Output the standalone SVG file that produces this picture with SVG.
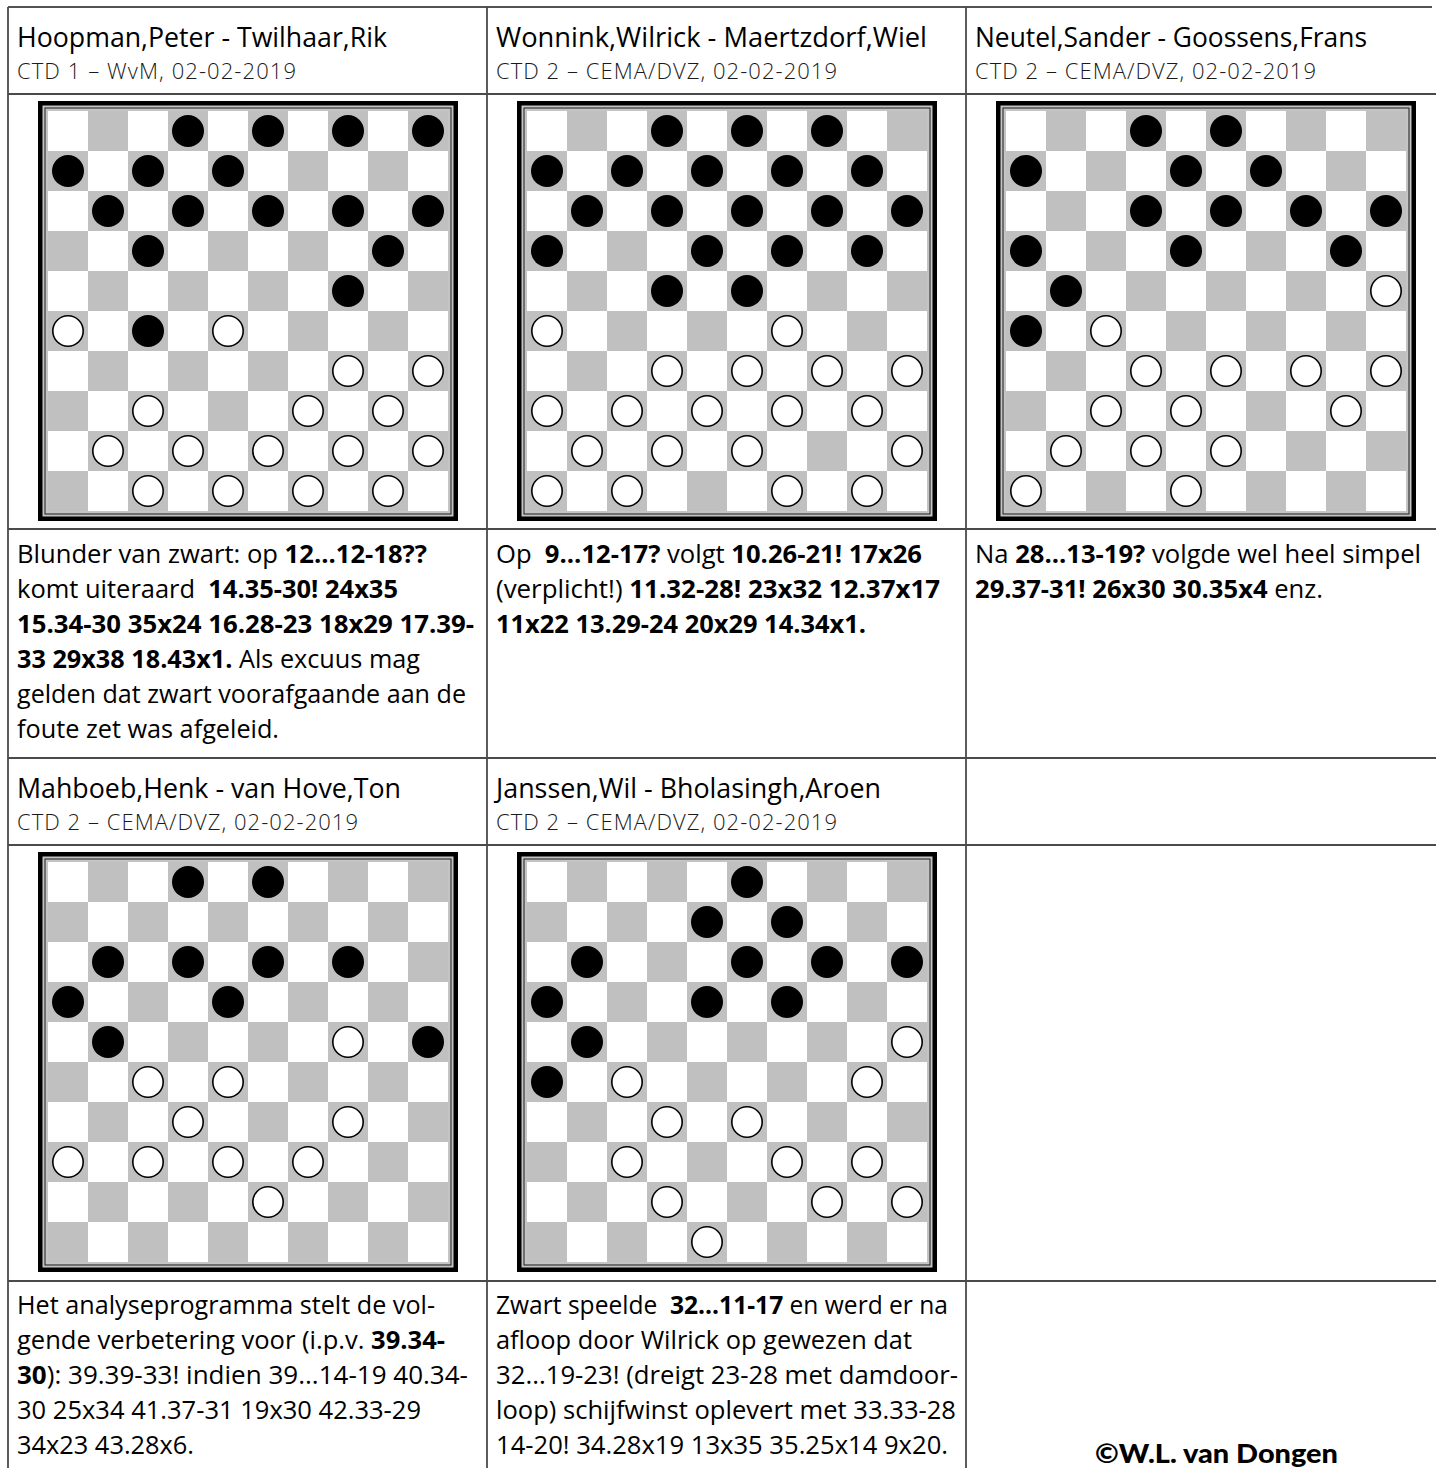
<svg xmlns="http://www.w3.org/2000/svg" xmlns:xlink="http://www.w3.org/1999/xlink" width="1436" height="1468" viewBox="0 0 1436 1468">
<style>
.grid line{stroke:#4a4a4a;stroke-width:1.8}
.grid .top{stroke:#1a1a1a;stroke-width:1.5}
.t{font-family:"Open Sans","Liberation Sans",sans-serif;font-weight:400;font-size:27px;fill:#000}
.s{font-family:"Open Sans","Liberation Sans",sans-serif;font-weight:300;font-size:22px;fill:#1a1a1a}
.b{font-family:"Open Sans","Liberation Sans",sans-serif;font-size:25.5px;fill:#000;white-space:pre}
.bo{font-weight:bold}
.k{fill:#000}
.w{fill:#fff;stroke:#000;stroke-width:1.6}
.copy{font-family:Lato,"DejaVu Sans",sans-serif;font-weight:900;font-size:27px;fill:#000}
</style>
<defs>
<pattern id="checker" patternUnits="userSpaceOnUse" x="0" y="0" width="80" height="80">
<rect width="80" height="80" fill="#fff"/>
<rect x="40" y="0" width="40" height="40" fill="#c0c0c0"/>
<rect x="0" y="40" width="40" height="40" fill="#c0c0c0"/>
</pattern>
<g id="board">
<rect x="-10" y="-10" width="420" height="420" fill="#000"/>
<rect x="-5.5" y="-5.5" width="411" height="411" fill="#c4c4c4"/>
<rect x="-3" y="-3" width="406" height="406" fill="none" stroke="#1a1a1a" stroke-width="1"/>
<rect x="0" y="0" width="400" height="400" fill="url(#checker)"/>
</g>
</defs>
<rect width="1436" height="1468" fill="#fff"/>

<g id="grid" class="grid">
<line class="top" x1="8" y1="7" x2="1432" y2="7"/>
<line x1="8" y1="7" x2="8" y2="1468"/>
<line x1="487" y1="7" x2="487" y2="1468"/>
<line x1="966" y1="7" x2="966" y2="1468"/>
<line x1="8" y1="94" x2="1436" y2="94"/>
<line x1="8" y1="529" x2="1436" y2="529"/>
<line x1="8" y1="758" x2="1436" y2="758"/>
<line x1="8" y1="845" x2="1436" y2="845"/>
<line x1="8" y1="1281" x2="1436" y2="1281"/>
</g>

<g id="game1">
<text class="t" x="17" y="47" textLength="370" lengthAdjust="spacingAndGlyphs">Hoopman,Peter - Twilhaar,Rik</text>
<text class="s" x="17" y="79" textLength="279" lengthAdjust="spacing">CTD 1 – WvM, 02-02-2019</text>
<g transform="translate(48,111)">
<use xlink:href="#board"/>
<g class="k">
<circle cx="140" cy="20" r="16"/><circle cx="220" cy="20" r="16"/><circle cx="300" cy="20" r="16"/><circle cx="380" cy="20" r="16"/>
<circle cx="20" cy="60" r="16"/><circle cx="100" cy="60" r="16"/><circle cx="180" cy="60" r="16"/>
<circle cx="60" cy="100" r="16"/><circle cx="140" cy="100" r="16"/><circle cx="220" cy="100" r="16"/><circle cx="300" cy="100" r="16"/><circle cx="380" cy="100" r="16"/>
<circle cx="100" cy="140" r="16"/><circle cx="340" cy="140" r="16"/>
<circle cx="300" cy="180" r="16"/>
<circle cx="100" cy="220" r="16"/>
</g>
<g class="w">
<circle cx="20" cy="220" r="15.2"/><circle cx="180" cy="220" r="15.2"/>
<circle cx="300" cy="260" r="15.2"/><circle cx="380" cy="260" r="15.2"/>
<circle cx="100" cy="300" r="15.2"/><circle cx="260" cy="300" r="15.2"/><circle cx="340" cy="300" r="15.2"/>
<circle cx="60" cy="340" r="15.2"/><circle cx="140" cy="340" r="15.2"/><circle cx="220" cy="340" r="15.2"/><circle cx="300" cy="340" r="15.2"/><circle cx="380" cy="340" r="15.2"/>
<circle cx="100" cy="380" r="15.2"/><circle cx="180" cy="380" r="15.2"/><circle cx="260" cy="380" r="15.2"/><circle cx="340" cy="380" r="15.2"/>
</g>
</g>
<text class="b" x="17" y="563" textLength="410" lengthAdjust="spacingAndGlyphs">Blunder van zwart: op <tspan class="bo">12...12-18??</tspan></text>
<text class="b" x="17" y="598" textLength="381" lengthAdjust="spacingAndGlyphs">komt uiteraard  <tspan class="bo">14.35-30! 24x35</tspan></text>
<text class="b" x="17" y="633" textLength="457" lengthAdjust="spacingAndGlyphs"><tspan class="bo">15.34-30 35x24 16.28-23 18x29 17.39-</tspan></text>
<text class="b" x="17" y="668" textLength="403" lengthAdjust="spacingAndGlyphs"><tspan class="bo">33 29x38 18.43x1.</tspan> Als excuus mag</text>
<text class="b" x="17" y="703" textLength="449" lengthAdjust="spacingAndGlyphs">gelden dat zwart voorafgaande aan de</text>
<text class="b" x="17" y="738" textLength="262" lengthAdjust="spacingAndGlyphs">foute zet was afgeleid.</text>
</g>

<g id="game2">
<text class="t" x="496" y="47" textLength="431" lengthAdjust="spacingAndGlyphs">Wonnink,Wilrick - Maertzdorf,Wiel</text>
<text class="s" x="496" y="79" textLength="341" lengthAdjust="spacing">CTD 2 – CEMA/DVZ, 02-02-2019</text>
<g transform="translate(527,111)">
<use xlink:href="#board"/>
<g class="k">
<circle cx="140" cy="20" r="16"/><circle cx="220" cy="20" r="16"/><circle cx="300" cy="20" r="16"/>
<circle cx="20" cy="60" r="16"/><circle cx="100" cy="60" r="16"/><circle cx="180" cy="60" r="16"/><circle cx="260" cy="60" r="16"/><circle cx="340" cy="60" r="16"/>
<circle cx="60" cy="100" r="16"/><circle cx="140" cy="100" r="16"/><circle cx="220" cy="100" r="16"/><circle cx="300" cy="100" r="16"/><circle cx="380" cy="100" r="16"/>
<circle cx="20" cy="140" r="16"/><circle cx="180" cy="140" r="16"/><circle cx="260" cy="140" r="16"/><circle cx="340" cy="140" r="16"/>
<circle cx="140" cy="180" r="16"/><circle cx="220" cy="180" r="16"/>
</g>
<g class="w">
<circle cx="20" cy="220" r="15.2"/><circle cx="260" cy="220" r="15.2"/>
<circle cx="140" cy="260" r="15.2"/><circle cx="220" cy="260" r="15.2"/><circle cx="300" cy="260" r="15.2"/><circle cx="380" cy="260" r="15.2"/>
<circle cx="20" cy="300" r="15.2"/><circle cx="100" cy="300" r="15.2"/><circle cx="180" cy="300" r="15.2"/><circle cx="260" cy="300" r="15.2"/><circle cx="340" cy="300" r="15.2"/>
<circle cx="60" cy="340" r="15.2"/><circle cx="140" cy="340" r="15.2"/><circle cx="220" cy="340" r="15.2"/><circle cx="380" cy="340" r="15.2"/>
<circle cx="20" cy="380" r="15.2"/><circle cx="100" cy="380" r="15.2"/><circle cx="260" cy="380" r="15.2"/><circle cx="340" cy="380" r="15.2"/>
</g>
</g>
<text class="b" x="496" y="563" textLength="426" lengthAdjust="spacingAndGlyphs">Op  <tspan class="bo">9...12-17?</tspan> volgt <tspan class="bo">10.26-21! 17x26</tspan></text>
<text class="b" x="496" y="598" textLength="444" lengthAdjust="spacingAndGlyphs">(verplicht!) <tspan class="bo">11.32-28! 23x32 12.37x17</tspan></text>
<text class="b" x="496" y="633" textLength="370" lengthAdjust="spacingAndGlyphs"><tspan class="bo">11x22 13.29-24 20x29 14.34x1.</tspan></text>
</g>

<g id="game3">
<text class="t" x="975" y="47" textLength="392" lengthAdjust="spacingAndGlyphs">Neutel,Sander - Goossens,Frans</text>
<text class="s" x="975" y="79" textLength="341" lengthAdjust="spacing">CTD 2 – CEMA/DVZ, 02-02-2019</text>
<g transform="translate(1006,111)">
<use xlink:href="#board"/>
<g class="k">
<circle cx="140" cy="20" r="16"/><circle cx="220" cy="20" r="16"/>
<circle cx="20" cy="60" r="16"/><circle cx="180" cy="60" r="16"/><circle cx="260" cy="60" r="16"/>
<circle cx="140" cy="100" r="16"/><circle cx="220" cy="100" r="16"/><circle cx="300" cy="100" r="16"/><circle cx="380" cy="100" r="16"/>
<circle cx="20" cy="140" r="16"/><circle cx="180" cy="140" r="16"/><circle cx="340" cy="140" r="16"/>
<circle cx="60" cy="180" r="16"/>
<circle cx="20" cy="220" r="16"/>
</g>
<g class="w">
<circle cx="380" cy="180" r="15.2"/>
<circle cx="100" cy="220" r="15.2"/>
<circle cx="140" cy="260" r="15.2"/><circle cx="220" cy="260" r="15.2"/><circle cx="300" cy="260" r="15.2"/><circle cx="380" cy="260" r="15.2"/>
<circle cx="100" cy="300" r="15.2"/><circle cx="180" cy="300" r="15.2"/><circle cx="340" cy="300" r="15.2"/>
<circle cx="60" cy="340" r="15.2"/><circle cx="140" cy="340" r="15.2"/><circle cx="220" cy="340" r="15.2"/>
<circle cx="20" cy="380" r="15.2"/><circle cx="180" cy="380" r="15.2"/>
</g>
</g>
<text class="b" x="975" y="563" textLength="446" lengthAdjust="spacingAndGlyphs">Na <tspan class="bo">28...13-19?</tspan> volgde wel heel simpel</text>
<text class="b" x="975" y="598" textLength="348" lengthAdjust="spacingAndGlyphs"><tspan class="bo">29.37-31! 26x30 30.35x4</tspan> enz.</text>
</g>

<g id="game4">
<text class="t" x="17" y="798" textLength="384" lengthAdjust="spacingAndGlyphs">Mahboeb,Henk - van Hove,Ton</text>
<text class="s" x="17" y="830" textLength="341" lengthAdjust="spacing">CTD 2 – CEMA/DVZ, 02-02-2019</text>
<g transform="translate(48,862)">
<use xlink:href="#board"/>
<g class="k">
<circle cx="140" cy="20" r="16"/><circle cx="220" cy="20" r="16"/>
<circle cx="60" cy="100" r="16"/><circle cx="140" cy="100" r="16"/><circle cx="220" cy="100" r="16"/><circle cx="300" cy="100" r="16"/>
<circle cx="20" cy="140" r="16"/><circle cx="180" cy="140" r="16"/>
<circle cx="60" cy="180" r="16"/><circle cx="380" cy="180" r="16"/>
</g>
<g class="w">
<circle cx="300" cy="180" r="15.2"/>
<circle cx="100" cy="220" r="15.2"/><circle cx="180" cy="220" r="15.2"/>
<circle cx="140" cy="260" r="15.2"/><circle cx="300" cy="260" r="15.2"/>
<circle cx="20" cy="300" r="15.2"/><circle cx="100" cy="300" r="15.2"/><circle cx="180" cy="300" r="15.2"/><circle cx="260" cy="300" r="15.2"/>
<circle cx="220" cy="340" r="15.2"/>
</g>
</g>
<text class="b" x="17" y="1314" textLength="418" lengthAdjust="spacingAndGlyphs">Het analyseprogramma stelt de vol-</text>
<text class="b" x="17" y="1349" textLength="428" lengthAdjust="spacingAndGlyphs">gende verbetering voor (i.p.v. <tspan class="bo">39.34-</tspan></text>
<text class="b" x="17" y="1384" textLength="451" lengthAdjust="spacingAndGlyphs"><tspan class="bo">30</tspan>): 39.39-33! indien 39...14-19 40.34-</text>
<text class="b" x="17" y="1419" textLength="404" lengthAdjust="spacingAndGlyphs">30 25x34 41.37-31 19x30 42.33-29</text>
<text class="b" x="17" y="1454" textLength="177" lengthAdjust="spacingAndGlyphs">34x23 43.28x6.</text>
</g>

<g id="game5">
<text class="t" x="496" y="798" textLength="385" lengthAdjust="spacingAndGlyphs">Janssen,Wil - Bholasingh,Aroen</text>
<text class="s" x="496" y="830" textLength="341" lengthAdjust="spacing">CTD 2 – CEMA/DVZ, 02-02-2019</text>
<g transform="translate(527,862)">
<use xlink:href="#board"/>
<g class="k">
<circle cx="220" cy="20" r="16"/>
<circle cx="180" cy="60" r="16"/><circle cx="260" cy="60" r="16"/>
<circle cx="60" cy="100" r="16"/><circle cx="220" cy="100" r="16"/><circle cx="300" cy="100" r="16"/><circle cx="380" cy="100" r="16"/>
<circle cx="20" cy="140" r="16"/><circle cx="180" cy="140" r="16"/><circle cx="260" cy="140" r="16"/>
<circle cx="60" cy="180" r="16"/>
<circle cx="20" cy="220" r="16"/>
</g>
<g class="w">
<circle cx="380" cy="180" r="15.2"/>
<circle cx="100" cy="220" r="15.2"/><circle cx="340" cy="220" r="15.2"/>
<circle cx="140" cy="260" r="15.2"/><circle cx="220" cy="260" r="15.2"/>
<circle cx="100" cy="300" r="15.2"/><circle cx="260" cy="300" r="15.2"/><circle cx="340" cy="300" r="15.2"/>
<circle cx="140" cy="340" r="15.2"/><circle cx="300" cy="340" r="15.2"/><circle cx="380" cy="340" r="15.2"/>
<circle cx="180" cy="380" r="15.2"/>
</g>
</g>
<text class="b" x="496" y="1314" textLength="452" lengthAdjust="spacingAndGlyphs">Zwart speelde  <tspan class="bo">32...11-17</tspan> en werd er na</text>
<text class="b" x="496" y="1349" textLength="416" lengthAdjust="spacingAndGlyphs">afloop door Wilrick op gewezen dat</text>
<text class="b" x="496" y="1384" textLength="462" lengthAdjust="spacingAndGlyphs">32...19-23! (dreigt 23-28 met damdoor-</text>
<text class="b" x="496" y="1419" textLength="460" lengthAdjust="spacingAndGlyphs">loop) schijfwinst oplevert met 33.33-28</text>
<text class="b" x="496" y="1454" textLength="452" lengthAdjust="spacingAndGlyphs">14-20! 34.28x19 13x35 35.25x14 9x20.</text>
</g>

<g id="copyright">
<text class="copy" x="1095" y="1463" textLength="243" lengthAdjust="spacingAndGlyphs">©W.L. van Dongen</text>
</g>
</svg>
